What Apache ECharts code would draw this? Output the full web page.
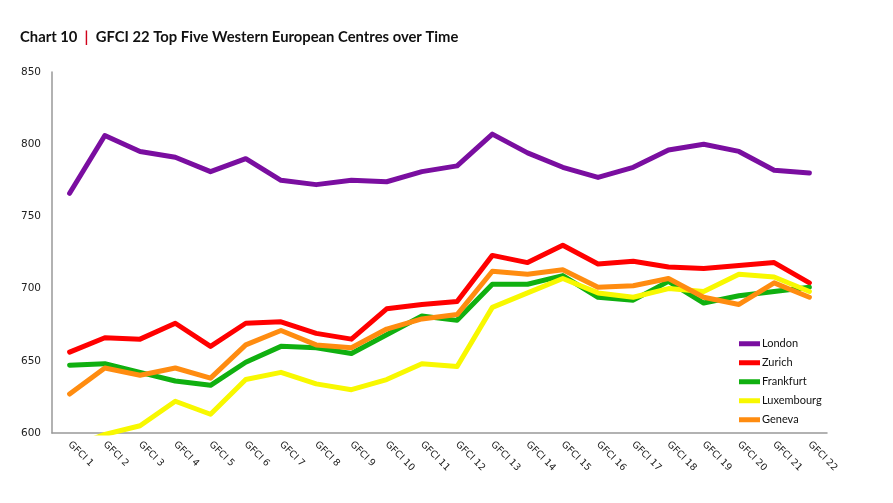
<!DOCTYPE html>
<html>
<head>
<meta charset="utf-8">
<script src="https://cdn.jsdelivr.net/npm/echarts@6/dist/echarts.min.js"></script>
<style>
html,body{margin:0;padding:0;background:#fff;}
#chart{width:893px;height:503px;}
</style>
</head>
<body>
<div id="chart"></div>
<script>
const categories = ['GFCI 1','GFCI 2','GFCI 3','GFCI 4','GFCI 5','GFCI 6','GFCI 7','GFCI 8','GFCI 9','GFCI 10','GFCI 11','GFCI 12','GFCI 13','GFCI 14','GFCI 15','GFCI 16','GFCI 17','GFCI 18','GFCI 19','GFCI 20','GFCI 21','GFCI 22'];
const london     = [766, 806, 795, 791, 781, 790, 775, 772, 775, 774, 781, 785, 807, 794, 784, 777, 784, 796, 800, 795, 782, 780];
const zurich     = [656, 666, 665, 676, 660, 676, 677, 669, 665, 686, 689, 691, 723, 718, 730, 717, 719, 715, 714, 716, 718, 704];
const frankfurt  = [647, 648, 642, 636, 633, 649, 660, 659, 655, 668, 681, 678, 703, 703, 709, 694, 692, 705, 690, 695, 698, 701];
const luxembourg = [590, 599, 605, 622, 613, 637, 642, 634, 630, 637, 648, 646, 687, 697, 707, 697, 694, 700, 698, 710, 708, 698];
const geneva     = [627, 645, 640, 645, 638, 661, 671, 661, 659, 672, 679, 682, 712, 710, 713, 701, 702, 707, 694, 689, 704, 694];
const yTicks = [600, 650, 700, 750, 800, 850];
const titleParts = ['Chart 10', '|', 'GFCI 22 Top Five Western European Centres over Time'];

const names = ['London','Zurich','Frankfurt','Luxembourg','Geneva'];
const colors = ['#7A0EA0','#FF0000','#10B010','#F8F800','#FF8C10'];
const values = [london, zurich, frankfurt, luxembourg, geneva];

const chart = echarts.init(document.getElementById('chart'), null, {renderer:'canvas'});
chart.setOption({
  animation: false,
  backgroundColor: '#fff',
  title: {
    left: 15, top: 25,
    text: '{a|' + titleParts[0] + '}{s|  ' + titleParts[1] + '  }{a|' + titleParts[2] + '}',
    textStyle: {
      rich: {
        a: {fontFamily: 'Lato', fontWeight: 'bold', fontSize: 14.8, color: '#111'},
        s: {fontFamily: 'Lato', fontWeight: 'bold', fontSize: 14.8, color: '#D0021B'}
      }
    }
  },
  legend: {
    orient: 'vertical',
    left: 734, top: 332,
    icon: 'rect',
    itemWidth: 21, itemHeight: 5,
    itemGap: 5.5,
    textStyle: {fontFamily: 'Lato', fontSize: 11, color: '#111', lineHeight: 13.5, padding: [0,0,0,-3]},
    data: names
  },
  grid: {left: 52, right: 66, top: 72, bottom: 70, containLabel: false},
  xAxis: {
    type: 'category',
    data: categories,
    boundaryGap: true,
    axisLine: {show: true, lineStyle: {color: '#999', width: 1.5}},
    axisTick: {show: false},
    axisLabel: {rotate: -45, interval: 0, margin: 10, fontFamily: 'DejaVu Sans', fontSize: 9.5, color: '#222'},
    splitLine: {show: false}
  },
  yAxis: {
    type: 'value',
    min: yTicks[0], max: yTicks[yTicks.length-1], interval: 50,
    axisLine: {show: true, lineStyle: {color: '#999', width: 1.5}},
    axisTick: {show: false},
    axisLabel: {margin: 11, fontFamily: 'DejaVu Sans', fontSize: 10.5, color: '#222'},
    splitLine: {show: false}
  },
  series: names.map((n, i) => ({
    name: n,
    type: 'line',
    data: values[i],
    showSymbol: false,
    symbol: 'none',
    clip: true,
    color: colors[i],
    lineStyle: {width: 5, color: colors[i], join: 'round', cap: 'round'}
  }))
});
</script>
</body>
</html>
